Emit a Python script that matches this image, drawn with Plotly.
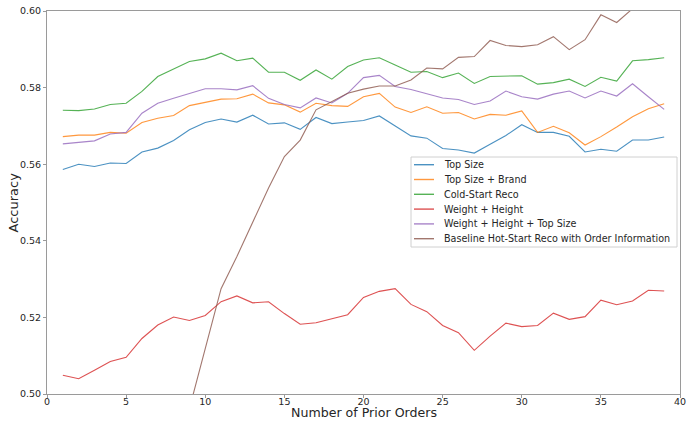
import plotly.graph_objects as go

orders = list(range(1, 40))

top_size = [0.5586, 0.5600, 0.5594, 0.5603, 0.5602, 0.5632, 0.5642, 0.5662, 0.5690, 0.5709,
            0.5718, 0.5710, 0.5728, 0.5705, 0.5708, 0.5691, 0.5722, 0.5706, 0.5710, 0.5714,
            0.5726, 0.5700, 0.5674, 0.5668, 0.5641, 0.5637, 0.5629, 0.5652, 0.5675, 0.5703,
            0.5683, 0.5683, 0.5673, 0.5632, 0.5639, 0.5634, 0.5663, 0.5663, 0.5671]

top_size_brand = [0.5672, 0.5676, 0.5676, 0.5683, 0.5681, 0.5709, 0.5720, 0.5727, 0.5753, 0.5762,
                  0.5770, 0.5771, 0.5783, 0.5760, 0.5755, 0.5736, 0.5759, 0.5753, 0.5751, 0.5776,
                  0.5785, 0.5749, 0.5735, 0.5750, 0.5733, 0.5735, 0.5718, 0.5730, 0.5728, 0.5739,
                  0.5683, 0.5699, 0.5682, 0.5650, 0.5672, 0.5697, 0.5724, 0.5745, 0.5758]

cold_start = [0.5741, 0.5740, 0.5744, 0.5756, 0.5759, 0.5790, 0.5829, 0.5849, 0.5868, 0.5875,
              0.5890, 0.5870, 0.5877, 0.5840, 0.5840, 0.5819, 0.5846, 0.5822, 0.5855, 0.5872,
              0.5878, 0.5859, 0.5840, 0.5842, 0.5826, 0.5838, 0.5811, 0.5829, 0.5830, 0.5831,
              0.5809, 0.5813, 0.5822, 0.5803, 0.5827, 0.5817, 0.5870, 0.5873, 0.5878]

weight_height = [0.5049, 0.5040, 0.5062, 0.5085, 0.5096, 0.5145, 0.5180, 0.5201, 0.5192, 0.5205,
                 0.5241, 0.5256, 0.5238, 0.5241, 0.5210, 0.5182, 0.5186, 0.5197, 0.5207, 0.5252,
                 0.5268, 0.5275, 0.5234, 0.5215, 0.5179, 0.5160, 0.5114, 0.5151, 0.5185, 0.5176,
                 0.5179, 0.5211, 0.5195, 0.5202, 0.5245, 0.5233, 0.5243, 0.5271, 0.5269]

weight_height_top = [0.5653, 0.5657, 0.5661, 0.5679, 0.5683, 0.5733, 0.5759, 0.5772, 0.5785, 0.5797,
                     0.5797, 0.5794, 0.5805, 0.5772, 0.5756, 0.5747, 0.5773, 0.5760, 0.5785, 0.5826,
                     0.5832, 0.5803, 0.5795, 0.5784, 0.5773, 0.5769, 0.5756, 0.5765, 0.5791, 0.5776,
                     0.5770, 0.5783, 0.5791, 0.5773, 0.5791, 0.5778, 0.5810, 0.5776, 0.5743]

baseline_orders = list(range(9, 40))
baseline_hot = [0.4962, 0.5119, 0.5275, 0.5359, 0.5449, 0.5538, 0.5620, 0.5663, 0.5742, 0.5763,
                0.5785, 0.5796, 0.5804, 0.5804, 0.5820, 0.5851, 0.5849, 0.5879, 0.5881, 0.5923,
                0.5910, 0.5907, 0.5912, 0.5933, 0.5899, 0.5925, 0.5990, 0.5970, 0.6006, 0.6030,
                0.6050]

x_ticks = [0, 5, 10, 15, 20, 25, 30, 35, 40]
y_ticks = [0.50, 0.52, 0.54, 0.56, 0.58, 0.60]

series = [
    ("Top Size", orders, top_size, "#1f77b4"),
    ("Top Size + Brand", orders, top_size_brand, "#ff7f0e"),
    ("Cold-Start Reco", orders, cold_start, "#2ca02c"),
    ("Weight + Height", orders, weight_height, "#d62728"),
    ("Weight + Height + Top Size", orders, weight_height_top, "#9467bd"),
    ("Baseline Hot-Start Reco with Order Information", baseline_orders, baseline_hot, "#8c564b"),
]

W, H = 688, 421
ML, MR, MT, MB = 47, 8, 11, 27
PW, PH = W - ML - MR, H - MT - MB


def px_x(p):
    return (p - ML) / PW


def px_y(p):
    return (H - MB - p) / PH


font_family = "DejaVu Sans"
text_color = "#262626"

fig = go.Figure()
for name, xs, ys, color in series:
    fig.add_trace(go.Scatter(x=xs, y=ys, mode="lines", name=name,
                             line=dict(color=color, width=1.1), opacity=0.8))

shapes = []
annotations = []

# legend box
shapes.append(dict(type="rect", xref="paper", yref="paper",
                   x0=px_x(411), x1=px_x(677), y0=px_y(247), y1=px_y(157),
                   line=dict(color="#d0d0d0", width=1), fillcolor="rgba(255,255,255,0.85)",
                   layer="above"))
for i, (name, xs, ys, color) in enumerate(series):
    cy = 164.7 + 14.8 * i
    shapes.append(dict(type="line", xref="paper", yref="paper",
                       x0=px_x(414), x1=px_x(434), y0=px_y(cy), y1=px_y(cy),
                       line=dict(color=color, width=1.4), opacity=0.8, layer="above"))
    annotations.append(dict(text=name, xref="paper", yref="paper",
                            x=px_x(441.5), y=px_y(cy), xanchor="left", yanchor="middle",
                            showarrow=False, font=dict(size=9.6, family=font_family, color=text_color)))

# axis titles
annotations.append(dict(text="Number of Prior Orders", xref="paper", yref="paper",
                        x=0.5, y=px_y(421), xanchor="center", yanchor="bottom",
                        showarrow=False, borderpad=0,
                        font=dict(size=12.6, family=font_family, color=text_color)))
annotations.append(dict(text="Accuracy", xref="paper", yref="paper",
                        x=px_x(13), y=0.5, xanchor="center", yanchor="middle", textangle=-90,
                        showarrow=False, font=dict(size=13, family=font_family, color=text_color)))

fig.update_layout(
    width=W, height=H,
    margin=dict(l=ML, r=MR, t=MT, b=MB),
    paper_bgcolor="white", plot_bgcolor="white",
    font=dict(family=font_family, color=text_color, size=10),
    showlegend=False,
    shapes=shapes,
    annotations=annotations,
    xaxis=dict(range=[0, 40], tickvals=x_ticks, ticktext=[str(v) for v in x_ticks],
               showgrid=False, zeroline=False, showline=True, linecolor="#9a9a9a",
               linewidth=1, mirror=True, ticks="outside", ticklen=3, tickcolor="#9a9a9a",
               tickfont=dict(size=9.5), automargin=False, ticklabelstandoff=-4),
    yaxis=dict(range=[0.50, 0.60], tickvals=y_ticks, ticktext=["%.2f" % v for v in y_ticks],
               showgrid=False, zeroline=False, showline=True, linecolor="#9a9a9a",
               linewidth=1, mirror=True, ticks="outside", ticklen=3, tickcolor="#9a9a9a",
               tickfont=dict(size=9.5), automargin=False),
)

fig.write_html("out.html")
